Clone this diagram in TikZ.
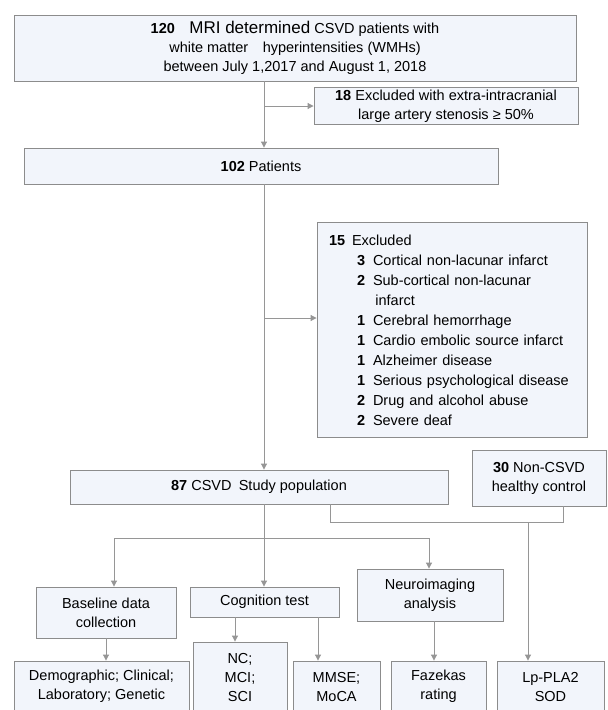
\documentclass[tikz,border=0pt]{standalone}
\usepackage{fontspec}
\setmainfont{Liberation Sans}
\usetikzlibrary{arrows.meta,positioning}
\definecolor{bxfill}{RGB}{242,245,251}
\definecolor{bxline}{RGB}{140,140,140}
\definecolor{arline}{RGB}{150,150,150}
\newcommand{\itm}[2]{\hspace*{28pt}\makebox[16pt][l]{\textbf{#1}}#2}
\begin{document}
\begin{tikzpicture}[x=1pt, y=-1pt, every node/.style={font=\fontsize{14.5}{19}\selectfont},
  bx/.style={draw=bxline, fill=bxfill, line width=0.9pt, inner sep=2pt, align=center},
  ln/.style={draw=arline, line width=1pt},
  ar/.style={ln, -{Triangle[length=6pt,width=6pt]}}]
\clip (0,0) rectangle (608,710);
\fill[white] (0,0) rectangle (608,710);
% screening
\node[bx, minimum width=562pt, minimum height=66pt] (top) at (295,48)
  {\textbf{120}\quad{\fontsize{17}{19}\selectfont MRI determined} CSVD patients with\\
   white matter\quad hyperintensities (WMHs)\\
   between July 1,2017 and August 1, 2018};
\node[bx, minimum width=264pt, minimum height=37pt] (excl1) at (446,106)
  {\textbf{18} Excluded with extra-intracranial\\ large artery stenosis ≥ 50\%};
\node[bx, minimum width=474pt, minimum height=36pt] (p102) at (261,166) {\textbf{102} Patients};
\node[bx, minimum width=270pt, minimum height=215pt, inner xsep=12pt, text width=246pt,
  align=left, font=\fontsize{14.5}{20}\selectfont] (excl2) at (452,330)
  {\makebox[23pt][l]{\textbf{15}}Excluded\\
   \itm{3}{Cortical non-lacunar infarct}\\
   \itm{2}{Sub-cortical non-lacunar}\\
   \itm{}{\,infarct}\\
   \itm{1}{Cerebral hemorrhage}\\
   \itm{1}{Cardio embolic source infarct}\\
   \itm{1}{Alzheimer disease}\\
   \itm{1}{Serious psychological disease}\\
   \itm{2}{Drug and alcohol abuse}\\
   \itm{2}{Severe deaf}};
% study groups
\node[bx, minimum width=378pt, minimum height=34pt] (p87) at (259,487) {\textbf{87} CSVD\enspace Study population};
\node[bx, minimum width=134pt, minimum height=56pt] (ctrl) at (539,478) {\textbf{30} Non-CSVD\\ healthy control};
% assessments
\node[bx, minimum width=140pt, minimum height=51pt] (base) at (106,612.5) {Baseline data\\ collection};
\node[bx, minimum width=149pt, minimum height=30pt] (cog) at (264.5,602) {Cognition test};
\node[bx, minimum width=146pt, minimum height=52pt] (neuro) at (430,595) {Neuroimaging\\ analysis};
\node[bx, minimum width=175pt, minimum height=51pt] (demo) at (101.5,686.5) {Demographic; Clinical;\\ Laboratory; Genetic};
\node[bx, minimum width=94pt, minimum height=70pt] (nc) at (240,677) {NC;\\ MCI;\\ SCI};
\node[bx, minimum width=87pt, minimum height=51pt] (mmse) at (336.5,686.5) {MMSE;\\ MoCA};
\node[bx, minimum width=95pt, minimum height=51pt] (faz) at (438.5,686.5) {Fazekas\\ rating};
\node[bx, minimum width=107pt, minimum height=51pt] (lp) at (550.5,686.5) {Lp-PLA2\\ SOD};
% connectors
\coordinate (spine) at (264,0);
\coordinate (j1) at (264,106);
\coordinate (j2) at (264,318);
\draw[ar] (top.south -| spine) -- (p102.north -| spine);
\draw[ar] (j1) -- (j1 -| excl1.west);
\draw[ar] (p102.south -| spine) -- (p87.north -| spine);
\draw[ar] (j2) -- (j2 -| excl2.west);
\coordinate (j3l) at (114,538);
\coordinate (j3r) at (429,538);
\draw[ar] (p87.south -| spine) -- (cog.north -| spine);
\draw[ln] (j3l) -- (j3r);
\draw[ar] (j3l) -- (j3l |- base.north);
\draw[ar] (j3r) -- (j3r |- neuro.north);
\coordinate (k1) at (330,522);
\coordinate (k2) at (563,522);
\coordinate (k3) at (528,522);
\draw[ln] (p87.south -| k1) -- (k1) -- (k2) -- (ctrl.south -| k2);
\draw[ar] (k3) -- (k3 |- lp.north);
\coordinate (c1) at (106,0);
\coordinate (c2) at (235,0);
\coordinate (c3) at (318,0);
\coordinate (c4) at (434,0);
\draw[ar] (base.south -| c1) -- (demo.north -| c1);
\draw[ar] (cog.south -| c2) -- (nc.north -| c2);
\draw[ar] (cog.south -| c3) -- (mmse.north -| c3);
\draw[ar] (neuro.south -| c4) -- (faz.north -| c4);
\end{tikzpicture}
\end{document}
